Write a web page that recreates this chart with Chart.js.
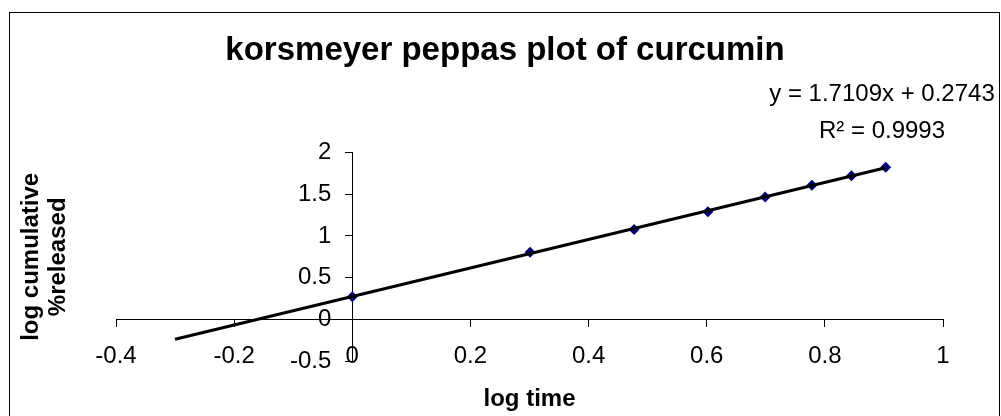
<!DOCTYPE html>
<html>
<head>
<meta charset="utf-8">
<title>korsmeyer peppas plot of curcumin</title>
<script src="https://cdn.jsdelivr.net/npm/chart.js@4/dist/chart.umd.min.js"></script>
<style>
    html, body { margin: 0; padding: 0; background: #fff; }
    #wrap { position: relative; width: 1001px; height: 416px; overflow: hidden; }
    #frame { position: absolute; left: 9px; top: 12px; width: 991px; height: 450px; box-sizing: border-box; border: 1px solid #000; }
    #kp-chart { position: absolute; left: 0; top: 0; }
</style>
</head>
<body>
<div id="wrap">
    <div id="frame"></div>
    <canvas id="kp-chart" width="1001" height="416"></canvas>
</div>
<script>
// Release data (log time vs log cumulative % released)
const logTime = [0, 0.301, 0.477, 0.602, 0.699, 0.778, 0.845, 0.903];
const logRelease = [0.272, 0.806, 1.078, 1.289, 1.467, 1.608, 1.723, 1.823];

// Linear trendline, ends as drawn in the plot
const trendX = [-0.3, 0.903];
const trendY = [-0.239, 1.819];

// Trendline label
const equationLines = ['y = 1.7109x + 0.2743', 'R\u00b2 = 0.9993'];

const fontFamily = '"Liberation Sans", Arial, sans-serif';
Chart.defaults.font.family = fontFamily;
Chart.defaults.color = '#000';

// Excel style tick text: 2, 1.5, 0, -0.5 (no trailing .0)
function plainTick(value) {
    return String(Number(value.toFixed(2)));
}

// Draw the equation text above the end of the trendline
const trendLabel = {
    id: 'trendLabel',
    afterDatasetsDraw(chart) {
        const { ctx, chartArea } = chart;
        const cx = chartArea.right - 61;
        ctx.save();
        ctx.font = '24px ' + fontFamily;
        ctx.fillStyle = '#000';
        ctx.textAlign = 'center';
        ctx.textBaseline = 'middle';
        ctx.fillText(equationLines[0], cx, chartArea.top - 58);
        ctx.fillText(equationLines[1], cx, chartArea.top - 21);
        ctx.restore();
    }
};

function initReleaseChart() {
    const ctx = document.getElementById('kp-chart');
    if (!ctx) return null;

    return new Chart(ctx.getContext('2d'), {
        type: 'scatter',
        data: {
            datasets: [{
                label: 'Linear trend',
                data: trendX.map((x, i) => ({ x: x, y: trendY[i] })),
                showLine: true,
                borderColor: '#000',
                borderWidth: 3,
                pointRadius: 0,
                order: 0
            }, {
                label: 'log cumulative %released',
                data: logTime.map((x, i) => ({ x: x, y: logRelease[i] })),
                pointStyle: 'rectRot',
                pointRadius: 5.5,
                backgroundColor: '#000080',
                borderColor: '#000080',
                borderWidth: 0,
                order: 1
            }]
        },
        options: {
            responsive: false,
            animation: false,
            devicePixelRatio: 1,
            layout: {
                padding: { left: 9, right: 0, top: 0, bottom: 0 }
            },
            plugins: {
                legend: { display: false },
                tooltip: { enabled: false },
                title: {
                    display: true,
                    text: 'korsmeyer peppas plot of curcumin',
                    color: '#000',
                    font: { size: 33, weight: 'bold' },
                    padding: { top: 31, bottom: 82 }
                }
            },
            scales: {
                x: {
                    type: 'linear',
                    min: -0.4,
                    max: 1,
                    position: { y: 0 },
                    ticks: { stepSize: 0.2, padding: 16, color: '#000', font: { size: 24 }, callback: plainTick },
                    grid: { drawOnChartArea: false, tickLength: 7, color: '#000' },
                    border: { color: '#000', width: 1 }
                },
                y: {
                    type: 'linear',
                    min: -0.5,
                    max: 2,
                    position: { x: 0 },
                    ticks: { display: false, stepSize: 0.5 },
                    grid: { drawOnChartArea: false, tickLength: 7, color: '#000' },
                    border: { color: '#000', width: 1 }
                },
                yLabels: {
                    type: 'linear',
                    axis: 'y',
                    min: -0.5,
                    max: 2,
                    position: { x: -0.0355 },
                    ticks: { stepSize: 0.5, padding: 0, color: '#000', font: { size: 24 }, callback: plainTick },
                    grid: { display: false, drawTicks: false },
                    border: { display: false }
                },
                xTitle: {
                    type: 'linear',
                    axis: 'x',
                    position: 'bottom',
                    min: -0.4,
                    max: 1,
                    ticks: { display: false },
                    grid: { display: false, drawTicks: false },
                    border: { display: false },
                    title: {
                        display: true,
                        text: 'log time',
                        color: '#000',
                        font: { size: 24, weight: 'bold', lineHeight: 1.2 },
                        padding: { top: 23.6, bottom: 2.6 }
                    }
                },
                yTitle: {
                    type: 'linear',
                    axis: 'y',
                    position: 'left',
                    min: -0.5,
                    max: 2,
                    ticks: { display: false },
                    grid: { display: false, drawTicks: false },
                    border: { display: false },
                    title: {
                        display: true,
                        text: ['log cumulative', '%released'],
                        color: '#000',
                        font: { size: 24, weight: 'bold', lineHeight: 1.125 },
                        padding: { top: 8.5, bottom: 44.5 }
                    }
                },
                yRight: {
                    type: 'linear',
                    axis: 'y',
                    position: 'right',
                    min: -0.5,
                    max: 2,
                    ticks: { display: false },
                    grid: { display: false, drawTicks: false },
                    border: { display: false },
                    title: {
                        display: true,
                        text: '',
                        font: { size: 10, lineHeight: 1 },
                        padding: { top: 24, bottom: 24 }
                    }
                }
            }
        },
        plugins: [trendLabel]
    });
}

initReleaseChart();
</script>
</body>
</html>
